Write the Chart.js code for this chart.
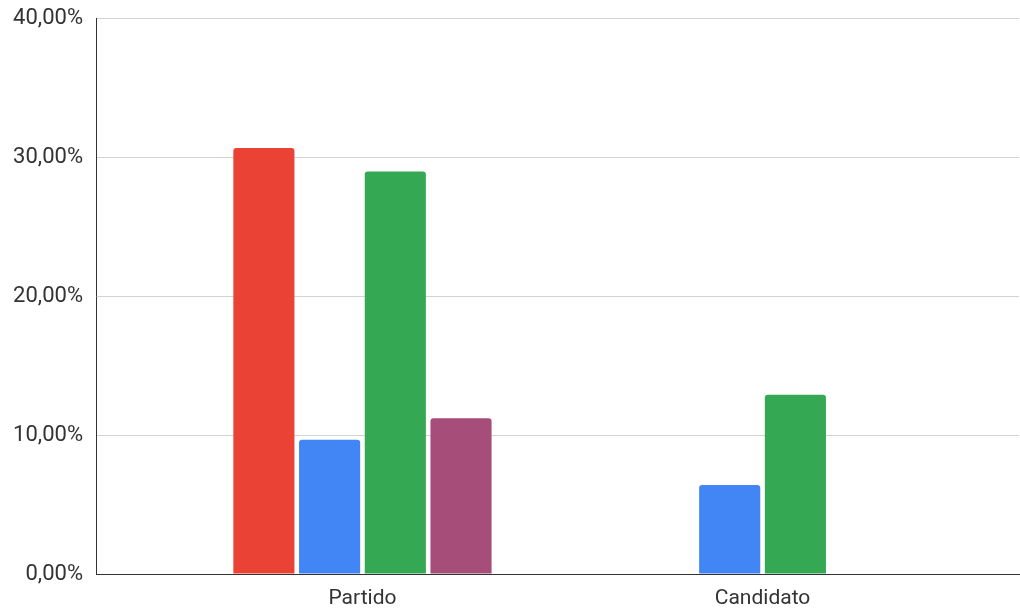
<!DOCTYPE html>
<html>
<head>
<meta charset="utf-8">
<script src="https://cdn.jsdelivr.net/npm/chart.js@4"></script>
<style>
  html, body { margin: 0; padding: 0; background: #fff; }
  #wrap { width: 1020px; height: 612px; }
</style>
</head>
<body>
<div id="wrap"><canvas id="voteChart"></canvas></div>
<script>
// DATA

const categories = ["Partido", "Candidato"];

const redValues = [30.65, null];

const blueValues = [9.65, 6.4];

const greenValues = [28.95, 12.9];

const purpleValues = [11.2, null];

const yTicks = [0, 10, 20, 30, 40];


// HELPERS

function pct(v) {
    return v.toFixed(2).replace(".", ",") + "%";
}

function toPoints(values) {
    return values.map(function (v, i) {
        return { x: i, y: v };
    });
}

function bars(label, values, color) {
    return {
        label: label,
        data: toPoints(values),
        backgroundColor: color,
        borderRadius: { topLeft: 3, topRight: 3 },
        borderSkipped: "bottom",
        categoryPercentage: 0.657,
        barPercentage: 0.93
    };
}


// CHART

Chart.defaults.font.family = "Roboto, 'Liberation Sans', Arial, sans-serif";
Chart.defaults.font.size = 21;
Chart.defaults.color = "#333";

new Chart(document.getElementById("voteChart"), {

    type: "bar",

    data: {
        datasets: [
            bars("Série 1", redValues, "#EA4335"),
            bars("Série 2", blueValues, "#4285F4"),
            bars("Série 3", greenValues, "#34A853"),
            bars("Série 4", purpleValues, "#A64D79")
        ]
    },

    options: {
        responsive: true,
        maintainAspectRatio: false,
        animation: false,
        layout: { padding: { top: 18, right: 1, left: 0, bottom: 0 } },
        plugins: {
            legend: { display: false },
            tooltip: { enabled: false }
        },
        scales: {
            x: {
                type: "linear",
                offset: false,
                min: -0.666,
                max: 1.641,
                afterBuildTicks: function (scale) {
                    scale.ticks = categories.map(function (c, i) {
                        return { value: i };
                    });
                },
                afterFit: function (scale) {
                    scale.height = 38;
                },
                grid: { display: false, drawTicks: false, offset: false },
                border: { display: true, color: "#333", width: 1 },
                ticks: {
                    padding: 12,
                    maxRotation: 0,
                    autoSkip: false,
                    callback: function (v) {
                        return categories[v];
                    }
                }
            },
            y: {
                min: 0,
                max: 40,
                afterBuildTicks: function (scale) {
                    scale.ticks = yTicks.map(function (v) {
                        return { value: v };
                    });
                },
                afterFit: function (scale) {
                    scale.width = 96;
                    scale.paddingTop = 0;
                    scale.paddingBottom = 0;
                },
                grid: { color: "#d3d3d3", drawTicks: false },
                border: { display: true, color: "#333", width: 1 },
                ticks: {
                    padding: 13,
                    font: { size: 22 },
                    callback: function (v) {
                        return pct(v);
                    }
                }
            }
        }
    }
});
</script>
</body>
</html>
